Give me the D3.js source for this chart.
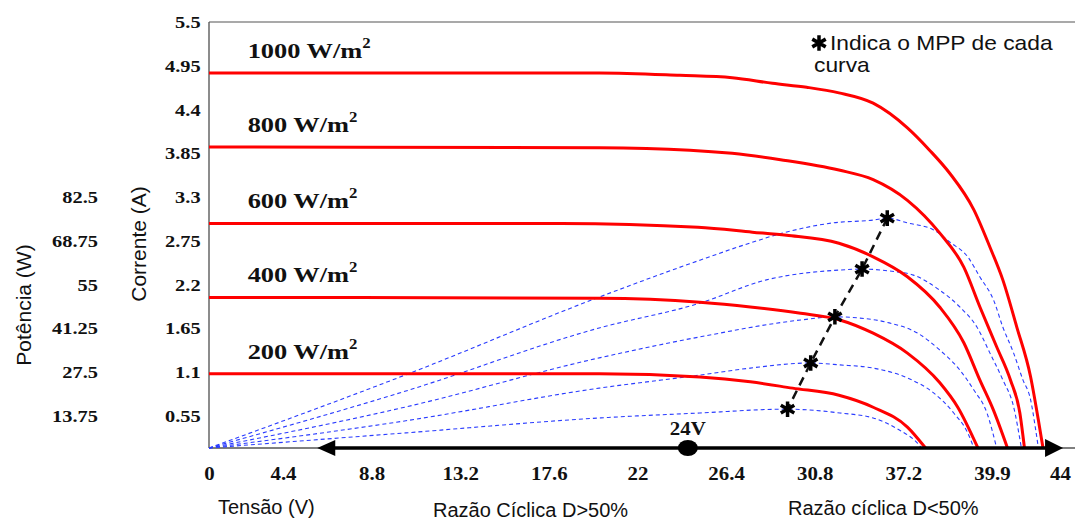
<!DOCTYPE html>
<html><head><meta charset="utf-8">
<script src="https://cdn.jsdelivr.net/npm/d3@7"></script>
<style>body{margin:0;background:#fff}svg{display:block}</style>
</head><body>
<svg id="c" width="1075" height="520"></svg>
<script>
// ---------- data ----------
const irradiances = ["1000", "800", "600", "400", "200"];
// I-V curves [V, A]
const iv1000 = [[0,4.86],[20.1,4.86],[24.1,4.83],[26.7,4.80],[28.7,4.73],[30.4,4.68],[32.0,4.61],[33.7,4.48],[35.4,4.17],[36.5,3.89],[37.5,3.60],[38.7,3.14],[39.5,2.67],[40.3,2.26],[41.2,1.67],[42.1,1.04],[42.6,0.48],[42.9,0]];
const iv800  = [[0,3.93],[20.1,3.92],[24.6,3.89],[26.7,3.85],[29.1,3.77],[32.0,3.64],[33.7,3.52],[35.4,3.26],[37.0,2.85],[38.2,2.42],[39.0,1.92],[39.9,1.42],[40.8,1.00],[41.4,0.59],[41.7,0]];
const iv600  = [[0,2.97],[18.2,2.97],[25.0,2.92],[27.7,2.86],[29.4,2.82],[32.0,2.72],[33.7,2.55],[35.4,2.30],[37.0,1.92],[38.2,1.47],[39.0,1.00],[39.7,0.62],[40.6,0]];
const iv400  = [[0,2.04],[20.1,2.03],[25.1,1.98],[27.6,1.92],[30.1,1.84],[32.0,1.76],[33.7,1.59],[35.4,1.34],[37.0,0.97],[37.9,0.66],[38.9,0]];
const iv200  = [[0,1.08],[20.1,1.08],[25.1,1.04],[27.6,0.98],[29.7,0.90],[32.0,0.81],[33.7,0.66],[35.4,0.36],[36.3,0]];
// P-V curves [V, W]
const pw1000 = [[0,0],[10.5,26.7],[20.1,51.1],[25.1,62.7],[27.6,68.1],[29.2,71.2],[31.7,74.4],[33.7,75.3],[34.4,75.9],[35.4,74.4],[36.7,72.2],[37.5,68.4],[38.4,63.7],[39.0,57.4],[39.7,50.2],[40.3,41.7],[41.0,33.5],[41.6,25.1],[42.1,18.8],[42.4,9.0],[42.6,0]];
const pw800  = [[0,0],[10.5,21.6],[20.1,41.4],[25.1,49.2],[28.4,56.5],[32.05,59.6],[33.15,59.9],[34.5,59.3],[35.7,58.0],[37.0,53.3],[38.0,48.0],[38.85,41.7],[39.5,33.5],[40.3,25.1],[41.0,16.6],[41.5,0]];
const pw600  = [[0,0],[10.5,16.6],[20.1,32.0],[25.1,38.6],[30.1,43.9],[31.8,44.9],[33.05,44.5],[34.5,43.0],[35.9,39.8],[37.0,34.5],[38.0,28.2],[38.7,21.9],[39.35,14.7],[39.9,0]];
const pw400  = [[0,0],[10.5,11.7],[20.1,22.5],[25.1,26.6],[27.6,28.8],[30.6,30.4],[32.05,29.8],[33.7,28.8],[35.4,25.7],[36.7,21.0],[37.7,14.7],[38.4,6.4],[38.7,0]];
const pw200  = [[0,0],[10.5,6.5],[20.1,12.9],[25.1,14.7],[29.4,15.9],[32.05,14.7],[33.7,12.9],[35.0,7.7],[35.9,2.1],[36.1,0]];
// Maximum power points
const mppV = [34.4, 33.15, 31.8, 30.6, 29.45];
const mppP = [75.9, 59.9, 44.9, 30.4, 15.9];
// ticks
const currentTicks = [0.55,1.1,1.65,2.2,2.75,3.3,3.85,4.4,4.95,5.5];
const currentTickLabels = ["0.55","1.1","1.65","2.2","2.75","3.3","3.85","4.4","4.95","5.5"];
const powerTicks = [13.75,27.5,41.25,55,68.75,82.5];
const powerTickLabels = ["13.75","27.5","41.25","55","68.75","82.5"];
const voltageTicks = [0,4.4,8.8,13.2,17.6,22,26.4,30.8,35.2,39.6,44];
const voltageTickLabels = ["0","4.4","8.8","13.2","17.6","22","26.4","30.8","37.2","39.9","44"];
const markerVoltage = 24.5, markerLabel = "24V";
const arrowSpan = [6.1, 44.2];

const ivCurves = [iv1000, iv800, iv600, iv400, iv200];
const pwCurves = [pw1000, pw800, pw600, pw400, pw200];

// ---------- scales ----------
const W = 1075;
const x = d3.scaleLinear().domain([0, 4.4, 39.6, 44]).range([209, 283, 992, 1060]);
const y = d3.scaleLinear().domain([0, 0.55, 5.5]).range([448, 416, 22]);
const yP = d3.scaleLinear().domain([0, 13.75, 137.5]).range([448, 416, 22]);

const svg = d3.select("#c");
svg.append("rect").attr("width", W).attr("height", 520).attr("fill", "#fff");

const serif = "'Liberation Serif','Times New Roman',serif";
const sans = "'Liberation Sans',Arial,sans-serif";

// frame
svg.append("line").attr("x1", x(0)).attr("x2", x(0)).attr("y1", y(5.5)).attr("y2", y(0))
  .attr("stroke", "#666").attr("stroke-width", 1.5);
svg.append("line").attr("x1", x(0)).attr("x2", W).attr("y1", y(5.5)).attr("y2", y(5.5))
  .attr("stroke", "#555").attr("stroke-width", 1.2);
svg.append("line").attr("x1", x(0)).attr("x2", W).attr("y1", y(0)).attr("y2", y(0))
  .attr("stroke", "#555").attr("stroke-width", 1.5);

// axes
function styleTicks(g, size, sx) {
  g.select(".domain").remove();
  g.selectAll("text").attr("font-family", serif).attr("font-weight", "bold")
    .attr("font-size", size).attr("fill", "#111")
    .attr("transform", `scale(${sx},1)`);
}
svg.append("g").attr("transform", `translate(${x(0)},0)`)
  .call(d3.axisLeft(y).tickValues(currentTicks).tickFormat((d, i) => currentTickLabels[i]).tickSize(0).tickPadding(7))
  .call(g => styleTicks(g, 17, 1.2));
svg.append("g").attr("transform", `translate(104,0)`)
  .call(d3.axisLeft(y).tickValues(powerTicks.map(p => p / 25)).tickFormat((d, i) => powerTickLabels[i]).tickSize(0).tickPadding(5))
  .call(g => styleTicks(g, 17, 1.2));
svg.append("g").attr("transform", `translate(0,${y(0)})`)
  .call(d3.axisBottom(x).tickValues(voltageTicks).tickFormat((d, i) => voltageTickLabels[i]).tickSize(0).tickPadding(18.5))
  .call(g => styleTicks(g, 19, 1.1));

// power curves (blue dotted)
const pLine = d3.line().x(d => x(d[0])).y(d => yP(d[1])).curve(d3.curveMonotoneX);
svg.append("g").selectAll("path").data(pwCurves).join("path")
  .attr("d", pLine).attr("fill", "none").attr("stroke", "#2a3cff")
  .attr("stroke-width", 1.1).attr("stroke-dasharray", "4,3");

// I-V curves (red)
const iLine = d3.line().x(d => x(d[0])).y(d => y(d[1])).curve(d3.curveMonotoneX);
svg.append("g").selectAll("path").data(ivCurves).join("path")
  .attr("d", iLine).attr("fill", "none").attr("stroke", "#ff0000")
  .attr("stroke-width", 3).attr("stroke-linejoin", "round");

// irradiance labels
irradiances.forEach((g, i) => {
  const isc = ivCurves[i][0][1];
  const t = svg.append("text")
    .attr("transform", `translate(${x(2.3)},${y(isc) - 15}) scale(1.2,1)`)
    .attr("font-family", serif).attr("font-weight", "bold").attr("font-size", 22).attr("fill", "#111");
  t.append("tspan").text(g + " W/m");
  t.append("tspan").attr("font-size", 14).attr("dy", -10).text("2");
});

// MPP dashed line
const mpp = mppV.map((v, i) => [v, mppP[i]]);
svg.append("path").datum(mpp)
  .attr("d", d3.line().x(d => x(d[0])).y(d => yP(d[1])))
  .attr("fill", "none").attr("stroke", "#111").attr("stroke-width", 2.5).attr("stroke-dasharray", "9,6");
const star = d3.symbol().type(d3.symbolAsterisk).size(170);
svg.append("g").selectAll("path").data(mpp).join("path")
  .attr("transform", d => `translate(${x(d[0])},${yP(d[1])})`)
  .attr("d", star).attr("fill", "none").attr("stroke", "#000").attr("stroke-width", 3.5);

// horizontal arrow along voltage axis
svg.append("line").attr("x1", x(arrowSpan[0]) + 16).attr("x2", x(arrowSpan[1]) - 16)
  .attr("y1", y(0)).attr("y2", y(0)).attr("stroke", "#000").attr("stroke-width", 3.5);
const ax0 = x(arrowSpan[0]), ax1 = x(arrowSpan[1]), ay = y(0);
svg.append("path").attr("d", `M${ax0},${ay}L${ax0 + 18},${ay - 8}L${ax0 + 18},${ay + 8}Z`).attr("fill", "#000");
svg.append("path").attr("d", `M${ax1},${ay}L${ax1 - 18},${ay - 9}L${ax1 - 18},${ay + 9}Z`).attr("fill", "#000");
svg.append("ellipse").attr("cx", x(markerVoltage)).attr("cy", y(0)).attr("rx", 10).attr("ry", 8).attr("fill", "#000");
svg.append("text").attr("transform", `translate(${x(markerVoltage)},435) scale(1.1,1)`)
  .attr("text-anchor", "middle").attr("font-family", serif).attr("font-weight", "bold")
  .attr("font-size", 19).attr("fill", "#111").text(markerLabel);

// axis titles
svg.append("text").attr("transform", "translate(31,305) rotate(-90)").attr("text-anchor", "middle")
  .attr("font-family", sans).attr("font-size", 21).attr("fill", "#111").text("Potência (W)");
svg.append("text").attr("transform", "translate(146,244) rotate(-90)").attr("text-anchor", "middle")
  .attr("font-family", sans).attr("font-size", 21).attr("fill", "#111").text("Corrente (A)");
svg.append("text").attr("x", 218).attr("y", 514).attr("font-family", sans).attr("font-size", 20)
  .attr("fill", "#111").text("Tensão (V)");
svg.append("text").attr("x", 433).attr("y", 517).attr("font-family", sans).attr("font-size", 20)
  .attr("fill", "#111").text("Razão Cíclica D>50%");
svg.append("text").attr("x", 788).attr("y", 515).attr("font-family", sans).attr("font-size", 20)
  .attr("fill", "#111").text("Razão cíclica D<50%");

// legend note
svg.append("path").attr("transform", "translate(819,43)").attr("d", star)
  .attr("fill", "none").attr("stroke", "#000").attr("stroke-width", 3.5);
svg.append("text").attr("transform", "translate(830,50) scale(1.14,1)").attr("font-family", sans)
  .attr("font-size", 20).attr("fill", "#111").text("Indica o MPP de cada");
svg.append("text").attr("transform", "translate(814,72) scale(1.14,1)").attr("font-family", sans)
  .attr("font-size", 20).attr("fill", "#111").text("curva");
</script>
</body></html>
